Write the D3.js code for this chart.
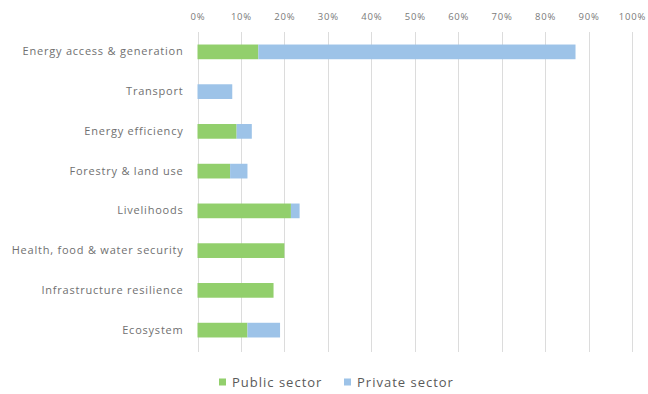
<!DOCTYPE html>
<html>
<head>
<meta charset="utf-8">
<script src="https://cdn.jsdelivr.net/npm/d3@7"></script>
<style>
  html, body { margin: 0; padding: 0; background: #fff; }
  svg { display: block; font-family: "Open Sans", Lato, sans-serif; }
</style>
</head>
<body>
<svg id="chart" width="648" height="394"></svg>
<script>
// Share of climate finance by sector (percent)
const categories = [
  "Energy access & generation",
  "Transport",
  "Energy efficiency",
  "Forestry & land use",
  "Livelihoods",
  "Health, food & water security",
  "Infrastructure resilience",
  "Ecosystem"
];
const publicSector  = [14, 0, 9, 7.5, 21.5, 20, 17.5, 11.5];
const privateSector = [73, 8, 3.5, 4, 2, 0, 0, 7.5];
const seriesNames = ["Public sector", "Private sector"];
const tickValues = [0, 10, 20, 30, 40, 50, 60, 70, 80, 90, 100];

const colors = ["#92cf6c", "#9dc3e8"];
const font = "'Open Sans', Lato, sans-serif";

const svg = d3.select("#chart");
const margin = { top: 32, left: 197.5 };
const plotRight = 632;
const plotBottom = 350;

const x = d3.scaleLinear().domain([0, 100]).range([margin.left, plotRight]);
const y = d3.scaleBand().domain(categories).range([margin.top, plotBottom]).paddingInner(0.63).paddingOuter(0.315);

// vertical gridlines
svg.append("g")
  .selectAll("line")
  .data(tickValues)
  .join("line")
  .attr("x1", d => Math.round(x(d)) + 0.5)
  .attr("x2", d => Math.round(x(d)) + 0.5)
  .attr("y1", margin.top)
  .attr("y2", plotBottom + 2)
  .attr("stroke", "#dcdcdc")
  .attr("stroke-width", 1);

// top axis labels
const xAxis = d3.axisTop(x).tickValues(tickValues).tickFormat(d => d + "%").tickSize(0).tickPadding(0);
const gx = svg.append("g").attr("transform", "translate(0,20)").call(xAxis);
gx.select(".domain").remove();
gx.selectAll("text")
  .attr("fill", "#7a7a7a").attr("font-size", 9.5).attr("font-family", font)
  .attr("letter-spacing", 0.8);

// stacked bars
const rows = categories.map((c, i) => ({ cat: c, values: [publicSector[i], privateSector[i]] }));
const stacked = d3.stack().keys([0, 1]).value((d, k) => d.values[k])(rows);

svg.append("g")
  .selectAll("g")
  .data(stacked)
  .join("g")
  .attr("fill", (d, i) => colors[i])
  .selectAll("rect")
  .data(d => d)
  .join("rect")
  .attr("x", d => x(d[0]))
  .attr("width", d => Math.max(0, x(d[1]) - x(d[0])))
  .attr("y", d => y(d.data.cat))
  .attr("height", y.bandwidth());

// category labels
const yAxis = d3.axisLeft(y).tickSize(0).tickPadding(14);
const gy = svg.append("g").attr("transform", `translate(${margin.left},0)`).call(yAxis);
gy.select(".domain").remove();
gy.selectAll("text")
  .attr("fill", "#707070").attr("font-size", 11).attr("font-family", font)
  .attr("letter-spacing", 0.78);

// legend
const legend = svg.append("g").attr("transform", "translate(0,382)");
const legendX = [219, 344];
seriesNames.forEach((name, i) => {
  const g = legend.append("g").attr("transform", `translate(${legendX[i]},0)`);
  g.append("rect").attr("x", 0).attr("y", -3.5).attr("width", 7).attr("height", 7).attr("fill", colors[i]);
  g.append("text").attr("x", 13).attr("y", 0).attr("dy", "0.35em")
    .attr("fill", "#5a5a5a").attr("font-size", 13).attr("font-family", font)
    .attr("letter-spacing", 1.0)
    .text(name);
});
</script>
</body>
</html>
